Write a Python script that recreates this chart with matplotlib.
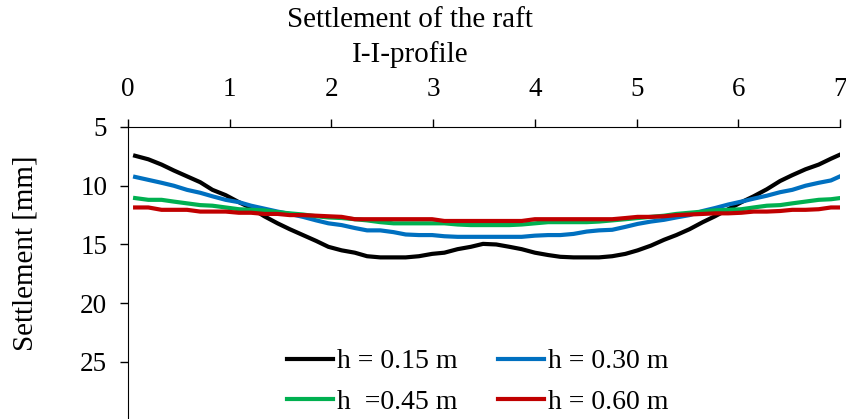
import numpy as np
import matplotlib.pyplot as plt

plt.rcParams['font.family'] = ['Liberation Serif', 'DejaVu Serif']

# distance along the profile [m]
x = [0.07, 0.2, 0.33, 0.45, 0.58, 0.71, 0.83, 0.96, 1.09, 1.21,
     1.34, 1.47, 1.59, 1.72, 1.85, 1.97, 2.10, 2.23, 2.35, 2.48,
     2.61, 2.73, 2.86, 2.99, 3.11, 3.24, 3.37, 3.49, 3.62, 3.75,
     3.87, 4.00, 4.13, 4.25, 4.38, 4.51, 4.63, 4.76, 4.89, 5.01,
     5.14, 5.27, 5.39, 5.52, 5.65, 5.77, 5.90, 6.03, 6.15, 6.28,
     6.41, 6.53, 6.66, 6.79, 6.91, 7.0]

# settlements [mm]
h015 = [7.45, 7.75, 8.2, 8.7, 9.2, 9.7, 10.35, 10.8, 11.4, 11.9,
        12.6, 13.2, 13.7, 14.2, 14.7, 15.2, 15.5, 15.7, 16.0, 16.1,
        16.1, 16.1, 16.0, 15.8, 15.7, 15.4, 15.2, 14.95, 15.0, 15.2,
        15.4, 15.7, 15.9, 16.05, 16.1, 16.1, 16.1, 16.0, 15.8, 15.5,
        15.1, 14.6, 14.2, 13.7, 13.1, 12.6, 12.0, 11.4, 10.9, 10.3,
        9.6, 9.1, 8.6, 8.2, 7.7, 7.35]
h030 = [9.25, 9.5, 9.75, 10.0, 10.35, 10.6, 10.9, 11.2, 11.4, 11.7,
        11.95, 12.2, 12.4, 12.65, 12.95, 13.2, 13.35, 13.6, 13.8, 13.8,
        13.95, 14.15, 14.2, 14.2, 14.3, 14.35, 14.35, 14.35, 14.35, 14.35,
        14.35, 14.25, 14.2, 14.2, 14.1, 13.9, 13.8, 13.75, 13.5, 13.25,
        13.05, 12.9, 12.7, 12.5, 12.15, 11.9, 11.6, 11.35, 11.1, 10.85,
        10.55, 10.35, 10.0, 9.75, 9.55, 9.2]
h045 = [11.05, 11.2, 11.2, 11.35, 11.5, 11.65, 11.7, 11.85, 12.0, 12.05,
        12.1, 12.25, 12.35, 12.45, 12.6, 12.7, 12.75, 12.85, 12.95, 13.1,
        13.2, 13.2, 13.2, 13.2, 13.2, 13.3, 13.35, 13.35, 13.35, 13.35,
        13.3, 13.2, 13.1, 13.1, 13.1, 13.1, 13.05, 12.95, 12.85, 12.75,
        12.65, 12.55, 12.4, 12.3, 12.2, 12.1, 12.05, 12.0, 11.85, 11.7,
        11.65, 11.5, 11.35, 11.2, 11.15, 11.05]
h060 = [11.85, 11.85, 12.05, 12.05, 12.05, 12.2, 12.2, 12.2, 12.3, 12.3,
        12.4, 12.4, 12.5, 12.5, 12.55, 12.6, 12.65, 12.85, 12.85, 12.85,
        12.85, 12.85, 12.85, 12.85, 13.0, 13.0, 13.0, 13.0, 13.0, 13.0,
        13.0, 12.85, 12.85, 12.85, 12.85, 12.85, 12.85, 12.85, 12.75, 12.65,
        12.65, 12.6, 12.5, 12.45, 12.4, 12.35, 12.35, 12.3, 12.2, 12.2,
        12.15, 12.05, 12.05, 12.0, 11.85, 11.85]

labels = ['h = 0.15 m', 'h = 0.30 m', 'h  =0.45 m', 'h = 0.60 m']
colors = ['black', '#0070C0', '#00B050', '#C00000']

fig = plt.figure(figsize=(8.46, 4.19), dpi=100)
ax = fig.add_axes([0.1513, -0.004, 0.8417, 0.7009])

for y, lab, c in zip([h015, h030, h045, h060], labels, colors):
    ax.plot(x, y, color=c, lw=3, label=lab)

ax.set_xlim(0, 7)
ax.set_ylim(30, 5)
ax.set_yticks([5, 10, 15, 20, 25])
ax.xaxis.tick_top()
ax.tick_params(axis='both', labelsize=19.5, length=6, width=1, direction='out')
ax.tick_params(axis='x', pad=12)
ax.tick_params(axis='y', pad=9)
for s in ['right', 'bottom']:
    ax.spines[s].set_visible(False)

fig.text(0.485, 0.9356, 'Settlement of the raft', ha='center', va='baseline', fontsize=21)
fig.text(0.485, 0.852, 'I-I-profile', ha='center', va='baseline', fontsize=21)
fig.text(0.03, 0.395, 'Settlement [mm]', rotation=90, ha='center', va='center', fontsize=21)

# legend order: row 1 = 0.15, 0.30 ; row 2 = 0.45, 0.60
h, l = ax.get_legend_handles_labels()
order = [0, 2, 1, 3]
fig.legend([h[i] for i in order], [l[i] for i in order], ncol=2, frameon=False,
           fontsize=20, handlelength=1.65, handletextpad=0.15, columnspacing=1.45,
           labelspacing=0.55, loc='center', bbox_to_anchor=(0.5645, 0.088))

fig.savefig('out.png', dpi=100)
